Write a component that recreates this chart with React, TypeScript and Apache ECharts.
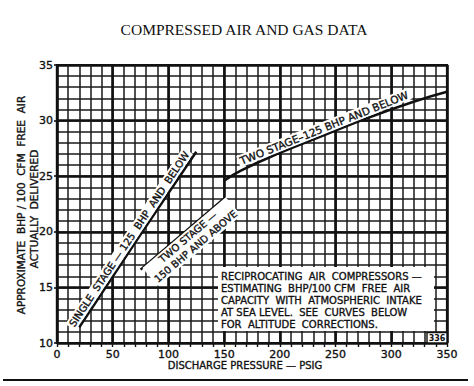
import React, { useEffect, useRef } from "react";
import * as echarts from "echarts";

// ---- data ----
const singleStage: number[][] = [[20, 11.4], [70, 19.0], [125, 27.2]];
const twoStage150: number[][] = [[75, 16.6], [150, 23.0]];
const twoStage125: number[][] = [
  [150, 24.6], [165, 25.5], [200, 27.1], [240, 28.7], [275, 30.1], [320, 31.7], [350, 32.6],
];
const xRange = [0, 350];
const yRange = [10, 35];
const xMinorStep = 10;
const xMajorStep = 50;
const yMinorStep = 1;
const yMajorStep = 5;

const titleText = "COMPRESSED AIR AND GAS DATA";
const yNameLine1 = "APPROXIMATE  BHP / 100  CFM  FREE  AIR";
const yNameLine2 = "ACTUALLY  DELIVERED";
const xName = "DISCHARGE PRESSURE — PSIG";
const labelSingle = "SINGLE  STAGE — 125  BHP  AND  BELOW";
const labelTwo150 = "TWO STAGE —\n150 BHP AND ABOVE";
const labelTwo125 = "TWO STAGE–125 BHP AND BELOW";
const noteLines = [
  "RECIPROCATING  AIR  COMPRESSORS —",
  "ESTIMATING  BHP/100 CFM  FREE  AIR",
  "CAPACITY  WITH  ATMOSPHERIC  INTAKE",
  "AT SEA LEVEL.  SEE  CURVES  BELOW",
  "FOR  ALTITUDE  CORRECTIONS.",
];
const figNumber = "336";

const FONT = "'DejaVu Sans', sans-serif";
const INK = "#111111";
const TEXT_STROKE = 0.35;

function interp(pts: number[][], x: number): number {
  for (let i = 0; i < pts.length - 1; i++) {
    const [x0, y0] = pts[i];
    const [x1, y1] = pts[i + 1];
    if (x >= x0 && x <= x1) return y0 + ((y1 - y0) * (x - x0)) / (x1 - x0);
  }
  return x < pts[0][0] ? pts[0][1] : pts[pts.length - 1][1];
}

export default function App() {
  const ref = useRef<HTMLDivElement>(null);

  useEffect(() => {
    if (!ref.current) return;
    const chart = echarts.init(ref.current, undefined, { renderer: "svg" });

    const lineSeries = (name: string, data: number[][], smooth: boolean) => ({
      name,
      type: "line",
      data,
      smooth,
      showSymbol: false,
      xAxisIndex: 0,
      yAxisIndex: 0,
      lineStyle: { color: INK, width: 2.5 },
      z: 5,
    });

    const minorSplit = { show: true, lineStyle: { color: "#181818", width: 1.5 } };
    const majorSplit = { show: true, lineStyle: { color: INK, width: 2.6 } };
    const labelStyle = {
      fontFamily: FONT, fontSize: 11, color: INK,
      textBorderColor: INK, textBorderWidth: TEXT_STROKE,
    };

    chart.setOption({
      animation: false,
      backgroundColor: "#ffffff",
      grid: { left: 57, right: 27, top: 65, bottom: 43, show: true, borderColor: INK, borderWidth: 2.2, backgroundColor: "#fff" },
      xAxis: [
        {
          type: "value", min: xRange[0], max: xRange[1], interval: xMinorStep,
          axisLine: { show: true, onZero: false, lineStyle: { color: INK, width: 2.2 } },
          axisTick: { show: true, length: 4, lineStyle: { color: INK, width: 1.4 } },
          axisLabel: { show: false },
          splitLine: minorSplit,
        },
        {
          type: "value", min: xRange[0], max: xRange[1], interval: xMajorStep, position: "bottom",
          axisLine: { show: false, onZero: false },
          axisTick: { show: false },
          axisLabel: { show: true, margin: 6, ...labelStyle },
          splitLine: majorSplit,
        },
      ],
      yAxis: [
        {
          type: "value", min: yRange[0], max: yRange[1], interval: yMinorStep,
          axisLine: { show: true, onZero: false, lineStyle: { color: INK, width: 2.2 } },
          axisTick: { show: false },
          axisLabel: { show: false },
          splitLine: minorSplit,
        },
        {
          type: "value", min: yRange[0], max: yRange[1], interval: yMajorStep, position: "left",
          axisLine: { show: false, onZero: false },
          axisTick: { show: true, length: 3, lineStyle: { color: INK, width: 1.6 } },
          axisLabel: { show: true, margin: 4, ...labelStyle },
          splitLine: majorSplit,
        },
      ],
      series: [
        lineSeries("Single stage", singleStage, false),
        lineSeries("Two stage 150", twoStage150, false),
        lineSeries("Two stage 125", twoStage125, true),
      ],
    });

    const conv = (x: number, y: number) =>
      chart.convertToPixel({ xAxisIndex: 0, yAxisIndex: 0 }, [x, y]) as number[];

    const txt = (extra: Record<string, unknown>) => ({
      fill: INK, stroke: INK, lineWidth: TEXT_STROKE, ...extra,
    });

    const curveLabel = (pts: number[][], xc: number, off: number, text: string, fontSize: number) => {
      const p = conv(xc, interp(pts, xc));
      const p1 = conv(xc - 8, interp(pts, xc - 8));
      const p2 = conv(xc + 8, interp(pts, xc + 8));
      const a = Math.atan2(-(p2[1] - p1[1]), p2[0] - p1[0]);
      const ux = -Math.sin(a);
      const uy = -Math.cos(a);
      return {
        type: "text",
        x: p[0] + ux * off,
        y: p[1] + uy * off,
        rotation: a,
        z: 50,
        style: txt({
          text,
          font: `${fontSize}px ${FONT}`,
          align: "center",
          verticalAlign: "middle",
          lineHeight: 12,
          backgroundColor: "#fff",
          padding: [0, 2],
        }),
      };
    };

    chart.setOption({
      graphic: [
        {
          type: "text", x: 244, y: 29, z: 50,
          style: { text: titleText, fill: INK, font: "15.5px 'Liberation Serif', serif", align: "center", verticalAlign: "middle" },
        },
        {
          type: "text", x: 21, y: 205, rotation: Math.PI / 2, z: 50,
          style: txt({ text: yNameLine1, font: `10.5px ${FONT}`, align: "center", verticalAlign: "middle" }),
        },
        {
          type: "text", x: 34, y: 209, rotation: Math.PI / 2, z: 50,
          style: txt({ text: yNameLine2, font: `10.5px ${FONT}`, align: "center", verticalAlign: "middle" }),
        },
        {
          type: "text", x: 245, y: 365, z: 50,
          style: txt({ text: xName, font: `10px ${FONT}`, align: "center", verticalAlign: "middle" }),
        },
        {
          type: "line", z: 50,
          shape: { x1: 3, y1: 380, x2: 468, y2: 380 },
          style: { stroke: INK, lineWidth: 2 },
        },
        {
          type: "rect", z: 40,
          shape: { x: 218, y: 267, width: 216, height: 64 },
          style: { fill: "#fff" },
        },
        {
          type: "text", x: 221, y: 270, z: 50,
          style: txt({ text: noteLines.join("\n"), font: `10px ${FONT}`, align: "left", verticalAlign: "top", lineHeight: 12 }),
        },
        {
          type: "rect", z: 45,
          shape: { x: 427, y: 332.5, width: 20, height: 10.5 },
          style: { fill: "#fff", stroke: INK, lineWidth: 1.4 },
        },
        {
          type: "text", x: 437, y: 338, z: 50,
          style: { text: figNumber, fill: INK, font: `bold 8px ${FONT}`, align: "center", verticalAlign: "middle" },
        },
        curveLabel(singleStage, 70, 7, labelSingle, 10),
        curveLabel(twoStage150, 114, -12, labelTwo150, 10),
        curveLabel(twoStage125, 242, 7, labelTwo125, 10.5),
      ],
    });

    return () => chart.dispose();
  }, []);

  return (
    <div
      ref={ref}
      style={{ position: "fixed", left: 0, top: 0, width: 474, height: 386 }}
    />
  );
}
